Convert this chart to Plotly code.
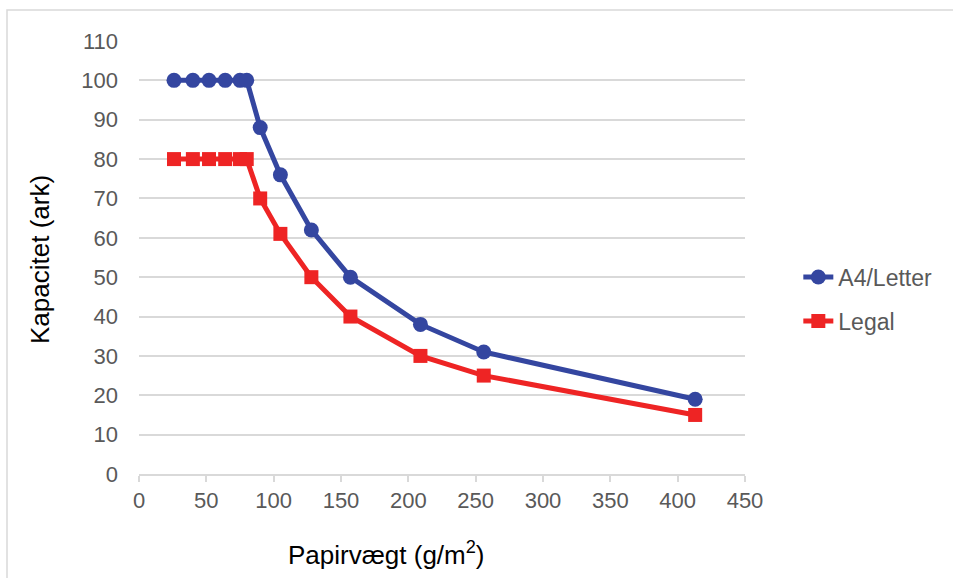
import plotly.graph_objects as go

paper_weight = [26, 40, 52, 64, 75, 80, 90, 105, 128, 157, 209, 256, 413]
a4_letter = [100, 100, 100, 100, 100, 100, 88, 76, 62, 50, 38, 31, 19]
legal = [80, 80, 80, 80, 80, 80, 70, 61, 50, 40, 30, 25, 15]
x_ticks = [0, 50, 100, 150, 200, 250, 300, 350, 400, 450]
y_ticks = [0, 10, 20, 30, 40, 50, 60, 70, 80, 90, 100, 110]

BLUE = "#3446a0"
RED = "#ee2424"
GRID = "#d9d9d9"
FONT = "Liberation Sans, Arial, sans-serif"

fig = go.Figure()
fig.add_trace(go.Scatter(
    x=paper_weight, y=a4_letter, name="A4/Letter", mode="lines+markers",
    line=dict(color=BLUE, width=5), marker=dict(symbol="circle", size=15, color=BLUE),
    legendgroup="a"))
fig.add_trace(go.Scatter(
    x=paper_weight, y=legal, name="Legal", mode="lines+markers",
    line=dict(color=RED, width=5), marker=dict(symbol="square", size=14, color=RED),
    legendgroup="b"))

fig.update_layout(
    width=953, height=578,
    margin=dict(l=139, r=208, t=41, b=104),
    paper_bgcolor="white", plot_bgcolor="white",
    font=dict(family=FONT, size=22, color="#595959"),
    showlegend=True,
    legend=dict(x=1.088, y=0.404, xanchor="left", yanchor="middle",
                font=dict(size=23, color="#595959"), tracegroupgap=11,
                traceorder="grouped", bgcolor="rgba(0,0,0,0)"),
    xaxis=dict(range=[0, 450], tickvals=x_ticks, showgrid=False,
               showline=True, linecolor=GRID, linewidth=1.5,
               ticks="outside", ticklen=6, tickcolor=GRID, tickwidth=1.5,
               zeroline=False, tickfont=dict(size=22, color="#595959")),
    yaxis=dict(range=[0, 110], tickvals=y_ticks, showgrid=True,
               gridcolor=GRID, gridwidth=1.5, showline=False, zeroline=False,
               ticks="", ticklabelstandoff=20,
               tickfont=dict(size=22, color="#595959")),
    annotations=[
        dict(text="Papirvægt (g/m<sup>2</sup>)", xref="paper", yref="paper",
             x=(386 - 139) / 606, y=(474 - 553) / 433, xanchor="center", yanchor="middle",
             showarrow=False, font=dict(size=26, color="black", family=FONT)),
        dict(text="Kapacitet (ark)", xref="paper", yref="paper",
             x=(40 - 139) / 606, y=(474 - 260) / 433, xanchor="center", yanchor="middle",
             textangle=-90, showarrow=False, font=dict(size=26, color="black", family=FONT)),
    ],
    shapes=[
        dict(type="rect", xref="paper", yref="paper",
             x0=(7 - 139) / 606, x1=1.6, y0=-0.4, y1=(474 - 10) / 433,
             line=dict(color=GRID, width=1.5), fillcolor="rgba(0,0,0,0)", layer="below"),
    ],
)

fig.write_html("out.html", config={"displayModeBar": False},
               post_script="document.body.style.margin='0';")
